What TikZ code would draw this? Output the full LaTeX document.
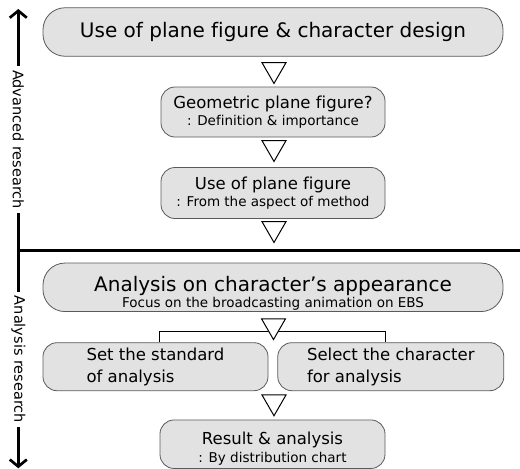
\documentclass[tikz,border=0pt]{standalone}
\usepackage{fontspec}
\setmainfont{DejaVu Sans}[Ligatures=NoCommon]
\usetikzlibrary{positioning,shapes.geometric,arrows.meta}
\definecolor{boxgray}{RGB}{226,226,226}
\definecolor{edgegray}{RGB}{90,90,90}
\newcommand\boxbig{\fontsize{20}{24}\selectfont}
\newcommand\boxmid{\fontsize{16.5}{20}\selectfont}
\newcommand\boxsmall{\fontsize{13.5}{16}\selectfont}

\begin{document}
\begin{tikzpicture}[x=1pt,y=-1pt,
    box/.style={rectangle,rounded corners=14pt,draw=edgegray,fill=boxgray,
      align=center,inner sep=0pt,line width=0.8pt},
    widebox/.style={box,rounded corners=22pt,minimum width=460pt,minimum height=48.5pt},
    smallbox/.style={box,minimum width=224pt,minimum height=49pt},
    tri/.style={regular polygon,regular polygon sides=3,shape border rotate=180,
      draw,fill=white,minimum size=27.7pt,inner sep=0pt,line width=1pt},
    side/.style={line width=2.7pt,-{Straight Barb[length=7pt,width=17pt]}},
    sidelabel/.style={fill=white,rotate=-90,inner sep=4pt,
      font=\fontsize{14.5}{17}\selectfont}]

    \useasboundingbox (0,0) rectangle (520,469);

    \begin{scope}[every node/.style={}]
      \node[widebox,font=\boxbig] (design) at (273,32)
        {Use of plane figure \& character design};
      \node[smallbox,minimum height=50pt] (geometric) at (273,112)
        {\boxmid Geometric plane figure?\\[3pt] \boxsmall : Definition \& importance};
      \node[smallbox,minimum height=51pt] (method) at (273,193)
        {\boxmid Use of plane figure\\[3pt] \boxsmall : From the aspect of method};

      \node[widebox] (appearance) at (273,287.3)
        {\rule{0pt}{27pt}\boxbig Analysis on character’s appearance\\ \boxsmall Focus on the broadcasting animation on EBS};
      \node[smallbox,minimum width=225pt,minimum height=48pt,align=left,font=\boxmid] (standard) at (155.5,366.7)
        {Set the standard\\[2pt]of analysis};
      \node[smallbox,minimum width=226pt,minimum height=48pt,align=left,font=\boxmid,right=9pt of standard] (select)
        {Select the character\\[2pt]for analysis};
      \node[smallbox,minimum width=225pt,minimum height=48.5pt] (result) at (272.5,444.2)
        {\rule{0pt}{21pt}\boxmid Result \& analysis\\[3pt] \boxsmall : By distribution chart};
    \end{scope}

    \coordinate (fork) at (273,331.5);
    \draw[line width=1pt] (standard.north -| result.west) |- (fork) -| (select.north -| result.east);

    \node[tri] (t1) at (274,69.6) {};
    \node[tri] (t2) at (274,147.6) {};
    \node[tri] (t3) at (274,228.6) {};
    \node[tri] (t4) at (273.5,325.7) {};
    \node[tri] (t5) at (274,401.9) {};

    \coordinate (split) at (18.3,250.7);
    \coordinate (advtop) at (18.3,9);
    \coordinate (anabottom) at (18.3,468.3);
    \coordinate (rightend) at (520,250.7);
    \draw[side] (split) -- node[sidelabel,pos=0.46] {Advanced research} (advtop);
    \draw[side] (split) -- node[sidelabel] {Analysis research} (anabottom);
    \draw[line width=3pt] (split) -- (rightend);
  \end{tikzpicture}
\end{document}
